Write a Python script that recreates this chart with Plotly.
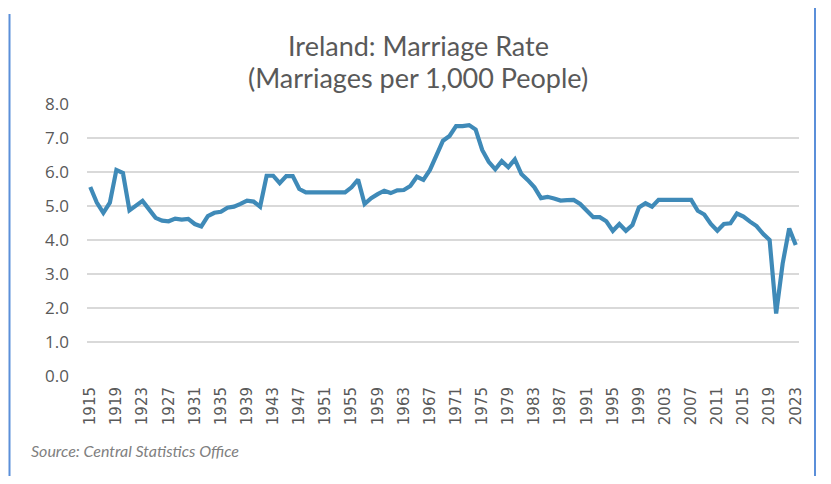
import plotly.graph_objects as go

years = list(range(1915, 2024))
rate = [
    5.56, 5.10, 4.80, 5.10, 6.06, 5.97, 4.87, 5.00, 5.15, 4.90,  # 1915-1924
    4.65, 4.57, 4.55, 4.63, 4.60, 4.62, 4.47, 4.40, 4.70, 4.80,  # 1925-1934
    4.83, 4.95, 4.98, 5.06, 5.16, 5.13, 4.98, 5.89, 5.89, 5.67,  # 1935-1944
    5.88, 5.88, 5.50, 5.40, 5.40, 5.40, 5.40, 5.40, 5.40, 5.40,  # 1945-1954
    5.55, 5.78, 5.06, 5.23, 5.35, 5.45, 5.38, 5.46, 5.47, 5.59,  # 1955-1964
    5.86, 5.77, 6.06, 6.47, 6.92, 7.06, 7.35, 7.35, 7.38, 7.25,  # 1965-1974
    6.65, 6.30, 6.08, 6.32, 6.14, 6.37, 5.94, 5.76, 5.55, 5.23,  # 1975-1984
    5.27, 5.22, 5.16, 5.17, 5.18, 5.06, 4.86, 4.67, 4.67, 4.55,  # 1985-1994
    4.27, 4.47, 4.27, 4.44, 4.96, 5.08, 4.98, 5.18, 5.18, 5.18,  # 1995-2004
    5.18, 5.18, 5.18, 4.86, 4.75, 4.47, 4.27, 4.47, 4.49, 4.78,  # 2005-2014
    4.69, 4.54, 4.41, 4.18, 4.00, 1.84, 3.31, 4.34, 3.85,        # 2015-2023
]
tick_years = list(range(1915, 2024, 4))
y_ticks = [0, 1, 2, 3, 4, 5, 6, 7, 8]

title_line1 = "Ireland: Marriage Rate"
title_line2 = "(Marriages per 1,000 People)"
source_text = "Source: Central Statistics Office"

# page is offset by the default 8px body margin
OFF = 8
W, H = 831 - OFF, 484 - 2 * OFF
L, T = 87 - OFF, 104 - OFF
R = W - (799 - OFF)
B = H - (376 - OFF)
pw, ph = W - L - R, H - T - B


def px_x(px):
    return (px - OFF - L) / pw


def px_y(py):
    return (H - B - (py - OFF)) / ph


fig = go.Figure()
fig.add_trace(go.Scatter(
    x=years, y=rate, mode="lines",
    line=dict(color="#3f8ab8", width=4.2),
    hoverinfo="x+y",
))

fig.update_layout(
    width=W, height=H,
    margin=dict(l=L, r=R, t=T, b=B, autoexpand=False),
    paper_bgcolor="white", plot_bgcolor="white",
    showlegend=False,
    font=dict(family="Lato, Open Sans, sans-serif", color="#595959"),
    xaxis=dict(
        range=[1914.5, 2023.5],
        tickmode="array", tickvals=tick_years,
        ticktext=[str(t) for t in tick_years],
        tickangle=-90,
        tickfont=dict(size=15, color="#595959", family="DejaVu Sans, sans-serif"),
        ticklabelstandoff=7,
        showgrid=False, zeroline=False, showline=False,
        ticks="", ticklen=0,
    ),
    yaxis=dict(
        range=[0, 8],
        tickmode="array", tickvals=y_ticks,
        ticktext=[f"{v:.1f}" for v in y_ticks],
        tickfont=dict(size=17, color="#595959", family="Open Sans, sans-serif"),
        ticklabelstandoff=17,
        showgrid=True, gridcolor="#d9d9d9", gridwidth=1.5,
        zeroline=False, showline=False,
        ticks="", ticklen=0,
    ),
    annotations=[
        dict(text=title_line1, xref="paper", yref="paper",
             x=px_x(418), y=px_y(45), xanchor="center", yanchor="middle",
             showarrow=False,
             font=dict(size=27, color="#595959", family="Lato, sans-serif")),
        dict(text=title_line2, xref="paper", yref="paper",
             x=px_x(418), y=px_y(78), xanchor="center", yanchor="middle",
             showarrow=False,
             font=dict(size=27, color="#595959", family="Lato, sans-serif")),
        dict(text="<i>" + source_text + "</i>", xref="paper", yref="paper",
             x=px_x(29), y=px_y(450), xanchor="left", yanchor="middle",
             showarrow=False,
             font=dict(size=16, color="#808080", family="Lato, sans-serif")),
    ],
    shapes=[
        dict(type="line", xref="paper", yref="paper",
             x0=px_x(9.5), x1=px_x(9.5), y0=px_y(14), y1=px_y(486),
             line=dict(color="#5b8fd9", width=2)),
        dict(type="line", xref="paper", yref="paper",
             x0=px_x(815), x1=px_x(815), y0=px_y(8), y1=px_y(486),
             line=dict(color="#5b8fd9", width=2)),
    ],
)

fig.write_html("out.html")
